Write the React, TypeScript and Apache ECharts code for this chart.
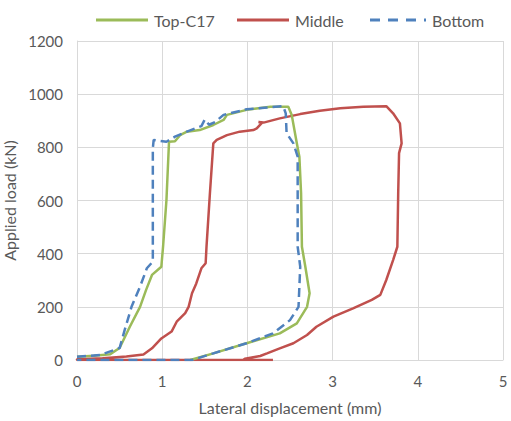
import React, { useEffect, useRef } from "react";
import * as echarts from "echarts";

// Lateral displacement (mm) and applied load (kN) for each gauge level
const topDisp = [0, 0.2, 0.39, 0.5, 0.62, 0.74, 0.81, 0.88, 0.99, 1.01, 1.05, 1.08, 1.15, 1.21, 1.29, 1.44, 1.6, 1.72, 1.76, 1.99, 2.27, 2.48, 2.52, 2.58, 2.61, 2.63, 2.64, 2.68, 2.73, 2.7, 2.58, 2.38, 1.99, 1.6, 1.33];
const topLoad = [12, 16, 22, 45, 125, 200, 263, 320, 351, 426, 602, 821, 823, 846, 859, 865, 884, 903, 922, 941, 953, 953, 922, 815, 765, 627, 426, 351, 251, 200, 138, 100, 63, 25, 0];

const middleDisp = [2.3, 0, 0, 0.3, 0.58, 0.78, 0.88, 0.99, 1.11, 1.17, 1.27, 1.31, 1.35, 1.4, 1.46, 1.51, 1.52, 1.56, 1.6, 1.64, 1.76, 1.91, 2.07, 2.11, 2.17, 2.13, 2.19, 2.38, 2.62, 2.85, 3.09, 3.36, 3.63, 3.71, 3.79, 3.81, 3.78, 3.77, 3.76, 3.71, 3.63, 3.56, 3.46, 3.24, 3.01, 2.81, 2.7, 2.54, 2.38, 2.23, 2.15, 1.97, 1.95];
const middleLoad = [0, 0, 3, 7, 13, 21, 44, 81, 107, 144, 176, 200, 251, 288, 345, 364, 426, 627, 815, 828, 846, 859, 865, 871, 892, 895, 893, 909, 925, 938, 947, 953, 955, 928, 890, 815, 778, 627, 426, 376, 301, 245, 226, 194, 163, 125, 94, 63, 44, 25, 15, 5, 0];

const bottomDisp = [0, 0.27, 0.5, 0.56, 0.64, 0.74, 0.82, 0.89, 0.89, 0.9, 1.05, 1.15, 1.29, 1.46, 1.5, 1.55, 1.62, 1.72, 1.99, 2.42, 2.45, 2.46, 2.54, 2.59, 2.59, 2.59, 2.62, 2.6, 2.5, 2.3, 1.99, 1.6, 1.35, 0];
const bottomLoad = [12, 19, 45, 113, 200, 276, 345, 370, 797, 828, 821, 840, 859, 880, 905, 885, 895, 922, 943, 955, 928, 853, 815, 765, 627, 426, 351, 200, 150, 100, 63, 25, 0, 0];

const zip = (xs: number[], ys: number[]) => xs.map((x, i) => [x, ys[i]]);

const textColor = "#595959";
const gridColor = "#d9d9d9";
const font = "Lato, 'Open Sans', sans-serif";

// Legend key shapes: a solid stroke and a dashed stroke ending in a dot
const solidKey = "path://M0,0H52V3H0Z";
const dashedKey = "path://M0,0H10V3H0Z M18,0H28V3H18Z M36,0H46V3H36Z M54,0H56V3H54Z";

const legendItem = (name: string, icon: string, left: number, width: number) => ({
  data: [{ name, icon }],
  top: 7,
  left,
  itemWidth: width,
  itemHeight: 3,
  itemGap: 0,
  textStyle: { color: textColor, fontSize: 16, fontFamily: font, padding: [0, 0, 0, 1] },
});

export default function App() {
  const ref = useRef<HTMLDivElement>(null);

  useEffect(() => {
    if (!ref.current) return;
    const chart = echarts.init(ref.current, null, { renderer: "svg" });
    chart.setOption({
      animation: false,
      backgroundColor: "#ffffff",
      textStyle: { fontFamily: font },
      legend: [
        legendItem("Top-C17", solidKey, 91, 52),
        legendItem("Middle", solidKey, 232, 52),
        legendItem("Bottom", dashedKey, 365, 56),
      ],
      grid: { left: 77, right: 8, top: 41, bottom: 61, containLabel: false, outerBoundsMode: "none" },
      xAxis: {
        type: "value",
        min: 0,
        max: 5,
        interval: 1,
        name: "Lateral displacement (mm)",
        nameLocation: "middle",
        nameGap: 39,
        nameTextStyle: { color: textColor, fontSize: 16, fontFamily: font },
        axisLine: { show: true, lineStyle: { color: gridColor, width: 1 } },
        axisTick: { show: false },
        axisLabel: { color: textColor, fontSize: 15, margin: 13, fontFamily: font, formatter: (v: number) => String(v) },
        splitLine: { show: true, lineStyle: { color: gridColor, width: 1 } },
      },
      yAxis: {
        type: "value",
        min: 0,
        max: 1200,
        interval: 200,
        name: "Applied load (kN)",
        nameLocation: "middle",
        nameGap: 50,
        nameRotate: 90,
        nameTextStyle: { color: textColor, fontSize: 16, fontFamily: font },
        axisLine: { show: true, lineStyle: { color: gridColor, width: 1 } },
        axisTick: { show: false },
        axisLabel: { color: textColor, fontSize: 15, margin: 14, fontFamily: font, formatter: (v: number) => String(v) },
        splitLine: { show: true, lineStyle: { color: gridColor, width: 1 } },
      },
      series: [
        {
          name: "Middle",
          type: "line",
          data: zip(middleDisp, middleLoad),
          showSymbol: false,
          symbol: "none",
          color: "#C0504D",
          lineStyle: { color: "#C0504D", width: 2.5 },
        },
        {
          name: "Top-C17",
          type: "line",
          data: zip(topDisp, topLoad),
          showSymbol: false,
          symbol: "none",
          color: "#9BBB59",
          lineStyle: { color: "#9BBB59", width: 2.5 },
        },
        {
          name: "Bottom",
          type: "line",
          data: zip(bottomDisp, bottomLoad),
          showSymbol: false,
          symbol: "none",
          color: "#4F81BD",
          lineStyle: { color: "#4F81BD", width: 2.5, type: [9, 5] },
        },
      ],
    });
    return () => chart.dispose();
  }, []);

  return (
    <div
      ref={ref}
      style={{ position: "fixed", left: 0, top: 0, width: 511, height: 421, background: "#fff" }}
    />
  );
}
